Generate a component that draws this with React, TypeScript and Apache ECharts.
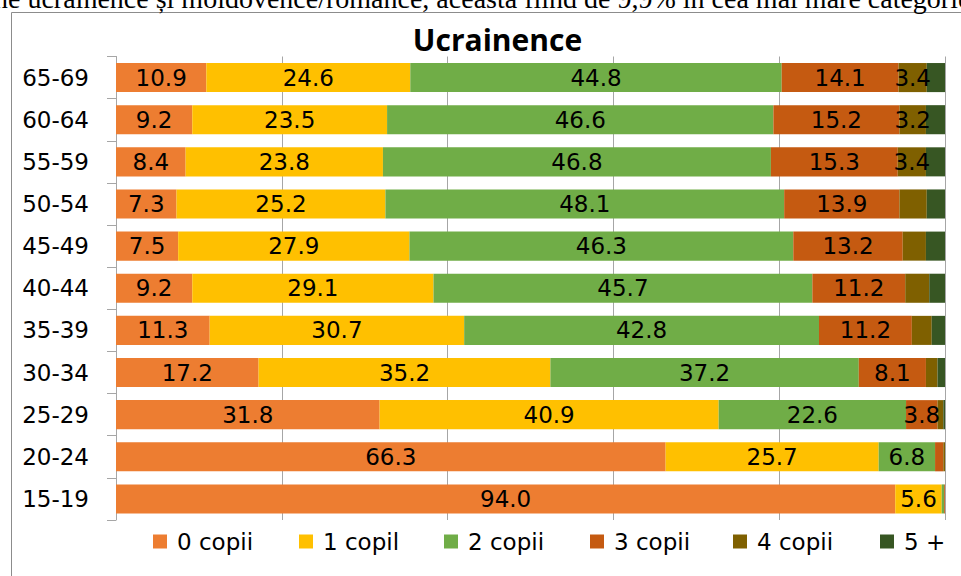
import React, { useEffect, useRef } from 'react';
import * as echarts from 'echarts';

// Age groups, bottom first (as drawn by the category axis)
const categories = ['15-19', '20-24', '25-29', '30-34', '35-39', '40-44', '45-49', '50-54', '55-59', '60-64', '65-69'];

const seriesNames = ['0 copii', '1 copil', '2 copii', '3 copii', '4 copii', '5 +'];

const copii0 = [94.0, 66.3, 31.8, 17.2, 11.3, 9.2, 7.5, 7.3, 8.4, 9.2, 10.9];
const copil1 = [5.6, 25.7, 40.9, 35.2, 30.7, 29.1, 27.9, 25.2, 23.8, 23.5, 24.6];
const copii2 = [0.3, 6.8, 22.6, 37.2, 42.8, 45.7, 46.3, 48.1, 46.8, 46.6, 44.8];
const copii3 = [0.1, 1.0, 3.8, 8.1, 11.2, 11.2, 13.2, 13.9, 15.3, 15.2, 14.1];
const copii4 = [0.0, 0.2, 0.7, 1.4, 2.4, 2.9, 2.8, 3.3, 3.4, 3.2, 3.4];
const copii5 = [0.0, 0.0, 0.2, 0.9, 1.6, 1.9, 2.3, 2.2, 2.3, 2.3, 2.2];

// which bars carry a data label in the original (1 = shown)
const labels0 = [1, 1, 1, 1, 1, 1, 1, 1, 1, 1, 1];
const labels1 = [1, 1, 1, 1, 1, 1, 1, 1, 1, 1, 1];
const labels2 = [0, 1, 1, 1, 1, 1, 1, 1, 1, 1, 1];
const labels3 = [0, 0, 1, 1, 1, 1, 1, 1, 1, 1, 1];
const labels4 = [0, 0, 0, 0, 0, 0, 0, 0, 1, 1, 1];
const labels5 = [0, 0, 0, 0, 0, 0, 0, 0, 0, 0, 0];

const xTicks = [0, 20, 40, 60, 80, 100];

const titleText = 'Ucrainence';
const aboveText = 'ne ucrainence și moldovence/romance, aceasta fiind de 9,9% în cea mai mare categorie';

const colors = ['#ED7D31', '#FFC000', '#70AD47', '#C55A11', '#7F6000', '#375623'];
const legendLefts = [153, 299, 444, 590, 733, 880];

const FONT = 'DejaVu Sans';

export default function App() {
  const ref = useRef<HTMLDivElement>(null);

  useEffect(() => {
    if (!ref.current) return;
    const chart = echarts.init(ref.current, null, { renderer: 'svg' });

    const values = [copii0, copil1, copii2, copii3, copii4, copii5];
    const shows = [labels0, labels1, labels2, labels3, labels4, labels5];

    const series = seriesNames.map((name, s) => ({
      name,
      type: 'bar',
      stack: 'total',
      barCategoryGap: '31%',
      itemStyle: { color: colors[s] },
      label: {
        show: true,
        position: 'inside',
        color: '#000',
        fontFamily: FONT,
        fontSize: 23,
        formatter: (p: any) => Number(p.value).toFixed(1),
      },
      emphasis: { disabled: true },
      data: values[s].map((v, i) => ({ value: v, label: { show: shows[s][i] === 1 } })),
    }));

    const legends = seriesNames.map((name, s) => ({
      data: [name],
      left: legendLefts[s],
      top: 530,
      padding: 0,
      itemWidth: 14,
      itemHeight: 14,
      icon: 'rect',
      selectedMode: false,
      textStyle: {
        fontFamily: FONT,
        fontSize: 23,
        color: '#000',
        padding: [0, 0, 0, 5],
      },
    }));

    chart.setOption({
      animation: false,
      backgroundColor: '#fff',
      color: colors,
      grid: { left: 116, right: 16, top: 56.5, bottom: 56, containLabel: false },
      xAxis: {
        type: 'value',
        min: xTicks[0],
        max: xTicks[xTicks.length - 1],
        interval: xTicks[1] - xTicks[0],
        axisLine: { show: false },
        axisTick: { show: false },
        axisLabel: { show: false },
        splitLine: { show: true, lineStyle: { color: '#A6A6A6', width: 1 } },
      },
      yAxis: {
        type: 'category',
        data: categories,
        axisLine: { show: true, lineStyle: { color: '#A6A6A6', width: 1 } },
        axisTick: { show: true, length: 9, lineStyle: { color: '#A6A6A6' } },
        axisLabel: { margin: 27, color: '#000', fontFamily: FONT, fontSize: 23 },
      },
      legend: legends,
      graphic: [
        {
          type: 'rect',
          z: -1,
          shape: { x: 11.5, y: 12.5, width: 1000, height: 600 },
          style: { fill: 'none', stroke: '#8C8C8C', lineWidth: 1 },
        },
        {
          type: 'text',
          x: -6,
          y: -2,
          style: {
            text: aboveText,
            fontFamily: 'Liberation Serif',
            fontSize: 28,
            fill: '#000',
            textAlign: 'left',
            textVerticalAlign: 'middle',
          },
        },
        {
          type: 'text',
          x: 497.5,
          y: 39,
          style: {
            text: titleText,
            fontFamily: 'Open Sans',
            fontWeight: 'bold',
            fontSize: 30,
            fill: '#000',
            textAlign: 'center',
            textVerticalAlign: 'middle',
          },
        },
      ],
      series,
    });

    return () => chart.dispose();
  }, []);

  return (
    <div
      ref={ref}
      style={{ position: 'fixed', left: 0, top: 0, width: 961, height: 576, background: '#fff' }}
    />
  );
}
